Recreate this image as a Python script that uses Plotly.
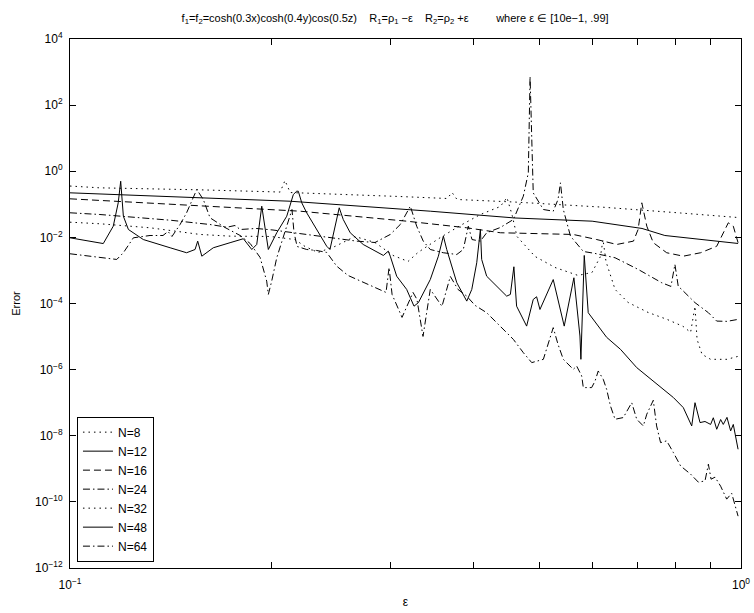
import plotly.graph_objects as go

# Convergence error versus epsilon for several expansion orders N
eps_n8 = [0.1, 0.1108, 0.1563, 0.2057, 0.2091, 0.2129, 0.3106, 0.3648, 0.3710, 0.3774,
          0.4603, 0.6174, 0.8128, 0.99]
err_n8 = [0.357, 0.315, 0.274, 0.235, 0.524, 0.227, 0.172, 0.150, 0.227, 0.140,
          0.117, 0.0828, 0.0546, 0.0399]

eps_n12 = [0.1, 0.151, 0.2129, 0.3443, 0.4603, 0.60, 0.712, 0.770, 0.99]
err_n12 = [0.2226, 0.166, 0.124, 0.0619, 0.0386, 0.0309, 0.0186, 0.0114, 0.00654]

eps_n16 = [0.1, 0.1483, 0.2203, 0.3175, 0.3902, 0.4379, 0.5133, 0.5623, 0.6095, 0.6530,
           0.6914, 0.7025, 0.7115, 0.7238, 0.7401, 0.7749, 0.8204, 0.8706, 0.9201, 0.9574,
           0.9739, 0.99]
err_n16 = [0.1466, 0.0953, 0.0619, 0.0309, 0.0195, 0.0138, 0.0131, 0.01225, 8.6e-3, 6.1e-3,
           7.7e-3, 0.0173, 0.111, 0.0218, 6.9e-3, 3.43e-3, 2.7e-3, 3.43e-3, 5.4e-3, 0.0276,
           0.0218, 6.9e-3]

eps_n24 = [0.1, 0.1108, 0.1410, 0.1617, 0.1714, 0.1762, 0.1793, 0.1894, 0.2007, 0.2129,
           0.2675, 0.2848, 0.3001, 0.3106, 0.3215, 0.3286, 0.3361, 0.3443, 0.3600, 0.3771,
           0.3856, 0.3923, 0.3973, 0.4089, 0.4178, 0.4379, 0.4579, 0.4738, 0.4820, 0.4849,
           0.4877, 0.4902, 0.5075, 0.5250, 0.5337, 0.5382, 0.5435, 0.5570, 0.5821, 0.6060,
           0.6491, 0.7029, 0.7617, 0.7863, 0.7971, 0.8063, 0.8157, 0.8540, 0.8941, 0.9201,
           0.9530, 0.99]
err_n24 = [0.0554, 0.0492, 0.0331, 0.0245, 0.0203, 0.0229, 0.0173, 0.0186, 0.0167, 0.0141,
           7.7e-3, 7.0e-3, 0.01225, 0.0245, 0.0877, 0.0218, 7.7e-3, 4.3e-3, 3.43e-3, 3.04e-3,
           4.3e-3, 0.0218, 8.6e-3, 7.7e-3, 0.0138, 0.0199, 0.0347, 0.176, 0.895, 741.0,
           4.5, 0.222, 0.0697, 0.0619, 0.140, 0.446, 0.0697, 0.0109, 3.75e-3, 3.27e-3,
           2.42e-3, 1.07e-3, 4.25e-4, 3.29e-4, 1.52e-3, 3.29e-4, 2.67e-4, 1.06e-4, 5.27e-5, 2.94e-5,
           2.88e-5, 3.31e-5]

eps_n32 = [0.1, 0.1108, 0.1316, 0.1563, 0.1732, 0.1987, 0.2164, 0.2240, 0.2342, 0.2482,
           0.2659, 0.2848, 0.3030, 0.3190, 0.3301, 0.3564, 0.3817, 0.4089, 0.4379, 0.4479,
           0.4557, 0.4636, 0.4932, 0.5282, 0.5716, 0.5998, 0.6174, 0.6228, 0.6292, 0.6491,
           0.6785, 0.7268, 0.7758, 0.8198, 0.8412, 0.8540, 0.8600, 0.8748, 0.9010, 0.9530,
           0.99]
err_n32 = [0.0288, 0.0258, 0.0195, 0.01225, 0.0109, 0.01064, 8.6e-3, 5.31e-3, 3.5e-3, 5.31e-3,
           0.01064, 7.0e-3, 2.84e-3, 1.87e-3, 3.5e-3, 9.9e-3, 0.0229, 0.0492, 0.0859, 0.160,
           0.0492, 0.01064, 2.65e-3, 1.23e-3, 7.06e-4, 8.7e-4, 2.65e-3, 8.6e-3, 1.87e-3, 2.67e-4,
           1.08e-4, 5.38e-5, 3.31e-5, 2.03e-5, 1.34e-5, 8.2e-5, 8.2e-6, 2.9e-6, 2.05e-6, 2.05e-6,
           2.52e-6]

eps_n48 = [0.1, 0.1121, 0.1160, 0.1180, 0.1190, 0.1201, 0.1222, 0.1286, 0.1410, 0.1492,
           0.1536, 0.1550, 0.1572, 0.1635, 0.1732, 0.1813, 0.1866, 0.1898, 0.1931, 0.1975,
           0.2033, 0.2104, 0.2152, 0.2177, 0.2189, 0.2215, 0.2253, 0.2331, 0.2413, 0.2440,
           0.2482, 0.2519, 0.2554, 0.2616, 0.2735, 0.2931, 0.2981, 0.3001, 0.3068, 0.3175,
           0.3256, 0.3305, 0.3443, 0.3540, 0.3601, 0.3643, 0.3771, 0.3902, 0.3970, 0.4038,
           0.4089, 0.4107, 0.4178, 0.4324, 0.4475, 0.4532, 0.4587, 0.4630, 0.4792, 0.4902,
           0.4959, 0.5016, 0.5250, 0.5452, 0.5636, 0.5754, 0.5773, 0.5840, 0.5920, 0.6306,
           0.6614, 0.6992, 0.7401, 0.7930, 0.8204, 0.8444, 0.8540, 0.8688, 0.8838, 0.9010,
           0.9094, 0.9201, 0.9325, 0.9410, 0.9530, 0.9651, 0.9739, 0.99]
err_n48 = [9.7e-3, 6.5e-3, 0.0218, 0.111, 0.499, 0.0437, 0.0173, 8.6e-3, 4.85e-3, 3.43e-3,
           4.3e-3, 7.7e-3, 2.7e-3, 4.85e-3, 6.9e-3, 9.1e-3, 4.3e-3, 6.1e-3, 0.0877, 4.3e-3,
           0.0138, 0.0437, 0.198, 0.249, 0.249, 0.111, 0.0554, 0.0173, 5.4e-3, 4.3e-3,
           0.0218, 0.0784, 0.0347, 0.0138, 6.1e-3, 2.84e-3, 3.83e-3, 2.7e-3, 6.7e-4, 2.67e-4,
           8.3e-5, 1.06e-4, 5.3e-4, 2.7e-3, 0.0109, 4.3e-3, 4.25e-4, 1.18e-4, 2.67e-4, 1.71e-3,
           0.0173, 2.15e-3, 6.7e-4, 3.36e-4, 1.67e-4, 1.88e-4, 1.29e-3, 8.3e-5, 2.07e-5, 1.33e-4,
           1.6e-4, 6.6e-5, 5.3e-4, 2.07e-5, 6.0e-4, 1.04e-5, 2.05e-6, 2.84e-3, 5.27e-5, 9.5e-6,
           4.1e-6, 1.15e-6, 4.5e-7, 1.43e-7, 7.1e-8, 1.98e-8, 1.0e-7, 2.5e-8, 2.7e-8, 2.2e-8,
           3.5e-8, 1.57e-8, 3.1e-8, 2.2e-8, 3.6e-8, 1.4e-8, 2.2e-8, 3.9e-9]

eps_n64 = [0.1, 0.1053, 0.1108, 0.1174, 0.1201, 0.1243, 0.1316, 0.1376, 0.1400, 0.1419,
           0.1459, 0.1492, 0.1545, 0.1580, 0.1617, 0.1702, 0.1793, 0.1856, 0.1920, 0.1964,
           0.1975, 0.1998, 0.2033, 0.2079, 0.2129, 0.2142, 0.2157, 0.2180, 0.2253, 0.2331,
           0.2413, 0.2497, 0.2596, 0.2733, 0.2848, 0.2958, 0.2989, 0.3020, 0.3125, 0.3245,
           0.3289, 0.3358, 0.3443, 0.3524, 0.3584, 0.3688, 0.3786, 0.3902, 0.4014, 0.4178,
           0.4324, 0.4579, 0.4738, 0.4877, 0.5075, 0.5250, 0.5337, 0.5435, 0.5624, 0.5690,
           0.5789, 0.5821, 0.5990, 0.6060, 0.6127, 0.6233, 0.6306, 0.6390, 0.6491, 0.6677,
           0.6873, 0.6992, 0.7152, 0.7238, 0.7401, 0.7486, 0.7588, 0.7749, 0.7929, 0.8128,
           0.8412, 0.8640, 0.8838, 0.8941, 0.9024, 0.9148, 0.9325, 0.9521, 0.9685, 0.99]
err_n64 = [3.19e-3, 2.84e-3, 2.42e-3, 2.15e-3, 3.43e-3, 9.7e-3, 0.0114, 0.0114, 0.0151, 0.01064,
           0.0245, 0.0554, 0.280, 0.140, 0.0391, 0.0199, 0.0114, 6.5e-3, 2.47e-3, 4.75e-4,
           1.88e-4, 4.75e-4, 2.42e-3, 9.7e-3, 0.0459, 0.0697, 0.0141, 5.31e-3, 4.3e-3, 4.02e-3,
           3.5e-3, 1.35e-3, 7.06e-4, 4.34e-4, 3.06e-4, 2.16e-4, 1.23e-3, 1.88e-4, 3.8e-5, 2.16e-4,
           1.33e-4, 1.01e-5, 2.67e-4, 1.33e-4, 8.2e-5, 6.6e-4, 2.67e-4, 1.67e-4, 8.8e-5, 5.27e-5,
           2.63e-5, 8.2e-6, 3.26e-6, 1.63e-6, 2.05e-6, 1.86e-5, 5.8e-6, 2.05e-6, 1.02e-6, 1.28e-6,
           6.4e-7, 2.86e-7, 2.86e-7, 4.5e-7, 9.1e-7, 5.1e-7, 2.54e-7, 7.9e-8, 3.15e-8, 3.55e-8,
           1.0e-7, 3.15e-8, 1.98e-8, 4.5e-8, 1.18e-7, 1.98e-8, 6.2e-9, 7.0e-9, 3.1e-9, 1.22e-9,
           6.9e-10, 3.94e-10, 4.3e-10, 1.38e-9, 4.85e-10, 5.6e-10, 2.98e-10, 1.21e-10, 1.83e-10, 3.7e-11]

series_names = ["N=8", "N=12", "N=16", "N=24", "N=32", "N=48", "N=64"]

x_tick_vals = [0.1, 1.0]
x_tick_text = ["10<sup>\u22121</sup>", "10<sup>0</sup>"]
x_minor_vals = [0.2, 0.3, 0.4, 0.5, 0.6, 0.7, 0.8, 0.9]
y_tick_vals = [1e4, 1e2, 1e0, 1e-2, 1e-4, 1e-6, 1e-8, 1e-10, 1e-12]
y_tick_text = ["10<sup>4</sup>", "10<sup>2</sup>", "10<sup>0</sup>", "10<sup>\u22122</sup>",
               "10<sup>\u22124</sup>", "10<sup>\u22126</sup>", "10<sup>\u22128</sup>",
               "10<sup>\u221210</sup>", "10<sup>\u221212</sup>"]

DOT = "1.5px,4px"
DASH = "7px,4px"
DASHDOT = "7px,3px,1.5px,3px"

styles = [DOT, "solid", DASH, DASHDOT, DOT, "solid", DASHDOT]
xs = [eps_n8, eps_n12, eps_n16, eps_n24, eps_n32, eps_n48, eps_n64]
ys = [err_n8, err_n12, err_n16, err_n24, err_n32, err_n48, err_n64]

FONT = "Liberation Sans, Arial, Helvetica, sans-serif"

fig = go.Figure()
for name, x, y, dash in zip(series_names, xs, ys, styles):
    fig.add_trace(go.Scatter(
        x=x, y=y, name=name, mode="lines",
        line=dict(color="black", width=1, dash=dash),
    ))

nb = "\u00a0"
title_text = ("f<sub>1</sub>=f<sub>2</sub>=cosh(0.3x)cosh(0.4y)cos(0.5z)" + nb * 4 +
              "R<sub>1</sub>=\u03c1<sub>1</sub> \u2212\u03b5" + nb * 4 +
              "R<sub>2</sub>=\u03c1<sub>2</sub> +\u03b5" + nb * 9 +
              "where \u03b5 \u2208 [10e\u22121, .99]")

fig.update_layout(
    width=754, height=613,
    margin=dict(l=70, r=13, t=39, b=45, autoexpand=False),
    paper_bgcolor="white", plot_bgcolor="white",
    font=dict(family=FONT, size=11, color="black"),
    title=dict(text=title_text, x=0.524, xanchor="center", y=1 - 18 / 613,
               yanchor="middle", font=dict(size=11)),
    showlegend=True,
    legend=dict(x=0.0104, y=0.012, xanchor="left", yanchor="bottom",
                bordercolor="black", borderwidth=1, bgcolor="white",
                font=dict(size=12), tracegroupgap=0),
)

fig.update_xaxes(
    type="log", range=[-1, 0], automargin=False,
    showgrid=False, zeroline=False,
    showline=True, linecolor="black", linewidth=1, mirror="ticks",
    ticks="inside", ticklen=6, tickcolor="black",
    tickmode="array", tickvals=x_tick_vals, ticktext=x_tick_text,
    tickfont=dict(size=12), ticklabelstandoff=6,
    minor=dict(tickmode="array", tickvals=x_minor_vals, ticks="inside",
               ticklen=6, tickcolor="black", showgrid=False),
    title=dict(text="\u03b5", font=dict(size=12), standoff=6),
)
fig.update_yaxes(
    type="log", range=[-12, 4], automargin=False,
    showgrid=False, zeroline=False,
    showline=True, linecolor="black", linewidth=1, mirror="ticks",
    ticks="inside", ticklen=6, tickcolor="black",
    tickmode="array", tickvals=y_tick_vals, ticktext=y_tick_text,
    tickfont=dict(size=12), ticklabelstandoff=4,
    title=dict(text="Error", font=dict(size=11), standoff=12),
)

fig.write_html("out.html")
